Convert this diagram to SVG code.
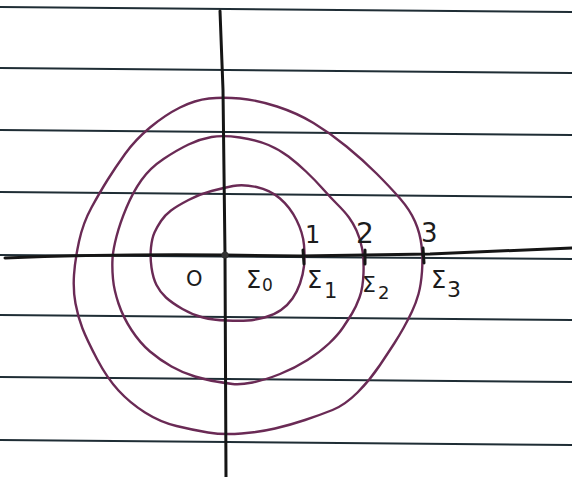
<svg xmlns="http://www.w3.org/2000/svg" width="572" height="477" viewBox="0 0 572 477">
<style>
.rule{stroke:#1f2d35;stroke-width:2;fill:none}
.axis{stroke:#151515;stroke-width:3;fill:none;stroke-linecap:round;stroke-linejoin:round}
.curve{stroke:#6a2a55;stroke-width:2.4;fill:none;stroke-linejoin:round;stroke-linecap:round}
.lbl{font-family:"DejaVu Sans","Liberation Sans",sans-serif;fill:#1c1c1c}
</style>
<rect width="572" height="477" fill="#ffffff"/>
<g id="paper-lines">
<line class="rule" x1="0" y1="7" x2="572" y2="12"/>
<line class="rule" x1="0" y1="68" x2="572" y2="73"/>
<line class="rule" x1="0" y1="130" x2="572" y2="135"/>
<line class="rule" x1="0" y1="192" x2="572" y2="197"/>
<line class="rule" x1="0" y1="255" x2="572" y2="259"/>
<line class="rule" x1="0" y1="315" x2="572" y2="320"/>
<line class="rule" x1="0" y1="377" x2="572" y2="382"/>
<line class="rule" x1="0" y1="440" x2="572" y2="445"/>
</g>
<g id="curves">
<path id="curve-1" class="curve" d="M211.5,191 Q223,188 233,186 Q243,184 256.5,187 Q270,190 280,198.5 Q290,207 296.5,220 Q303,233 304,245 Q305,257 304,266 Q303,275 300,283.5 Q297,292 292.5,298.5 Q288,305 281,310 Q274,315 264.5,317.5 Q255,320 247.5,320.5 Q240,321 226.5,320.5 Q213,320 203,317.5 Q193,315 182.5,309 Q172,303 166,297.5 Q160,292 156.5,285 Q153,278 151.5,267.5 Q150,257 151,247.5 Q152,238 154.5,232.5 Q157,227 161,221 Q165,215 171,210.5 Q177,206 188.5,200 Q200,194 211.5,191 Z"/>
<path id="curve-2" class="curve" d="M211.5,137 Q223,135 240,137.5 Q257,140 268.5,145 Q280,150 288.5,156.5 Q297,163 306,171.5 Q315,180 322.5,188.5 Q330,197 337.5,204.5 Q345,212 349,217.5 Q353,223 356.5,230.5 Q360,238 362,248 Q364,258 363.5,273 Q363,288 359.5,297.5 Q356,307 352,313.5 Q348,320 343,327.5 Q338,335 329,343.5 Q320,352 307.5,360 Q295,368 280,374 Q265,380 252.5,382.5 Q240,385 232.5,384 Q225,383 216,381.5 Q207,380 195,376.5 Q183,373 171.5,366.5 Q160,360 150,351.5 Q140,343 131.5,330 Q123,317 118.5,303.5 Q114,290 113,279 Q112,268 112.5,259 Q113,250 116.5,236.5 Q120,223 126.5,207.5 Q133,192 141.5,180 Q150,168 163.5,159 Q177,150 188.5,144.5 Q200,139 211.5,137 Z"/>
<path id="curve-3" class="curve" d="M209,98.5 Q223,97 240,98.5 Q257,100 277,106.5 Q297,113 313.5,123 Q330,133 346.5,146.5 Q363,160 376.5,173.5 Q390,187 400,198.5 Q410,210 415,221.5 Q420,233 421.5,245.5 Q423,258 422,271.5 Q421,285 418.5,294 Q416,303 412,311.5 Q408,320 403.5,328 Q399,336 394.5,343 Q390,350 380,365 Q370,380 357.5,392.5 Q345,405 332.5,410 Q320,415 305,420 Q290,425 275,428.5 Q260,432 241.5,433.5 Q223,435 208,432.5 Q193,430 176.5,426 Q160,422 145,412.5 Q130,403 118.5,390.5 Q107,378 97,359 Q87,340 82.5,328.5 Q78,317 75.5,303.5 Q73,290 74,275 Q75,260 79,241.5 Q83,223 91.5,207.5 Q100,192 107.5,180 Q115,168 125,154 Q135,140 150,127.5 Q165,115 180,107.5 Q195,100 209,98.5 Z"/>
</g>
<g id="axes">
<path class="axis" d="M5,258 Q100,254 225,255 L300,256 L430,254 L572,248"/>
<path class="axis" d="M220,11 L223,90 L225,255 L226,477"/>
<circle cx="225" cy="255" r="3.5" fill="#333"/>
<line class="axis" x1="303" y1="250" x2="304" y2="264"/>
<line class="axis" x1="365" y1="250" x2="365" y2="264"/>
<line class="axis" x1="423" y1="248" x2="424" y2="263"/>
</g>
<g id="labels">
<text class="lbl" x="186" y="286" font-size="21">O</text>
<text class="lbl" x="246" y="288" font-size="24">Σ</text>
<text class="lbl" x="262" y="291" font-size="17">0</text>
<text class="lbl" x="307" y="288" font-size="24">Σ</text>
<text class="lbl" x="324" y="298" font-size="21">1</text>
<text class="lbl" x="362" y="292" font-size="22">Σ</text>
<text class="lbl" x="378" y="299" font-size="18">2</text>
<text class="lbl" x="431" y="288" font-size="24">Σ</text>
<text class="lbl" x="447" y="297" font-size="22">3</text>
<text class="lbl" x="305" y="243" font-size="24">1</text>
<text class="lbl" x="356" y="243" font-size="28">2</text>
<text class="lbl" x="421" y="242" font-size="26">3</text>
</g>
</svg>
